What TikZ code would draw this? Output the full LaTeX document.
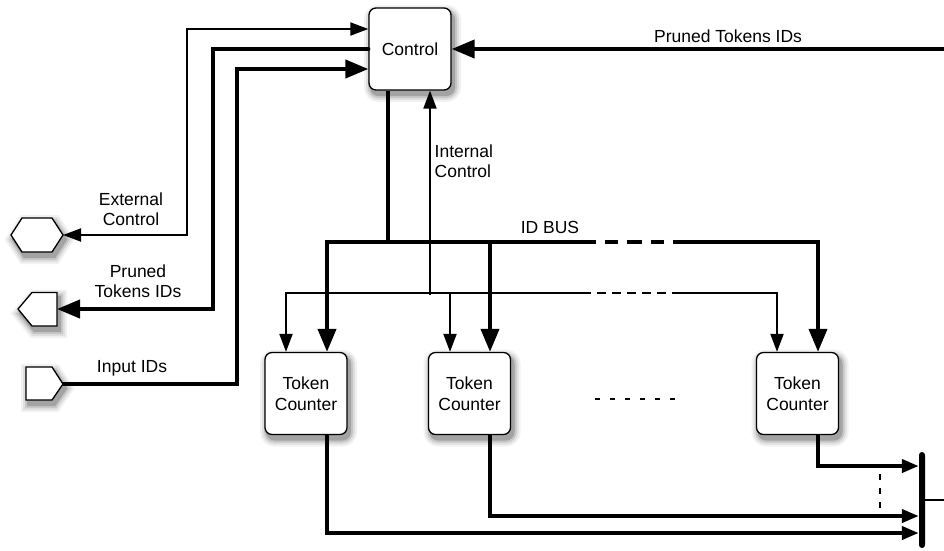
\documentclass[tikz,border=0pt]{standalone}
\usepackage{fontspec}
\setmainfont{Liberation Sans}
\usetikzlibrary{arrows.meta}
\begin{document}
\begin{tikzpicture}[x=1pt,y=-1pt,
  txt/.style={font=\fontsize{17.5}{20.5}\selectfont, inner sep=0pt},
  shad/.style={
    preaction={draw=black!5, fill=black!5, line width=15pt, transform canvas={xshift=2.5pt,yshift=-4.5pt}},
    preaction={draw=black!12, fill=black!12, line width=11pt, transform canvas={xshift=2.5pt,yshift=-4.5pt}},
    preaction={draw=black!22, fill=black!22, line width=7pt, transform canvas={xshift=2.5pt,yshift=-4.5pt}},
    preaction={draw=black!36, fill=black!36, line width=3pt, transform canvas={xshift=2.5pt,yshift=-4.5pt}}},
  box/.style={draw, line width=1.3pt, rounded corners=7pt, fill=white,
    minimum width=82pt, minimum height=82pt, align=center, shad, txt},
  port/.style={draw, line width=1.3pt, fill=white, shad},
  thinw/.style={line width=2pt},
  thickw/.style={line width=4pt},
  thinarr/.style={-{Triangle[length=18pt,width=13pt]}},
  thinbi/.style={{Triangle[length=18pt,width=13pt]}-{Triangle[length=18pt,width=13pt]}},
  thickarr/.style={-{Triangle[length=23pt,width=18pt]}},
  thickbi/.style={{Triangle[length=23pt,width=18pt]}-{Triangle[length=23pt,width=18pt]}},
  smallarr/.style={-{Triangle[length=17pt,width=13pt]}},
  gapw/.style={draw=white, line cap=butt}
]
\useasboundingbox (0,0) rectangle (944,550);

% ports
\draw[port] (11,235) -- (22,218) -- (52,218) -- (63,235) -- (52,252) -- (22,252) -- cycle;
\draw[port] (18,309) -- (32,292.5) -- (57,292.5) -- (57,326) -- (32,326) -- cycle;
\draw[port] (26,367) -- (52,367) -- (63,384) -- (52,400) -- (26,400) -- cycle;
\coordinate (ext) at (63,235);
\coordinate (pout) at (57,309);
\coordinate (pin) at (63,384);
\coordinate (edgeR) at (944,49);
\coordinate (outR) at (944,500);

% boxes
\node[box] (ctrl) at (410,49) {Control};
\node[box] (tc1) at (306,393.5) {Token\\Counter};
\node[box] (tc2) at (469.5,393.5) {Token\\Counter};
\node[box] (tc3) at (797.5,393.5) {Token\\Counter};
\node[fill=black, minimum width=6pt, minimum height=96pt, inner sep=0pt, rounded corners=3pt] (bar) at (922,500) {};

% left connections
\draw[thinw, thinbi] (ext) -- (187,235) -- (187,29) -- (ctrl.west |- 0,29);
\draw[thickw, thickarr, line cap=round] (ctrl.west |- 0,49) -- (213,49) -- (213,309) -- (pout);
\draw[thickw, thickarr] (pin) -- (237,384) -- (237,69) -- (ctrl.west |- 0,69);
\draw[thickw, thickarr] (edgeR) -- (ctrl.east);

% ID bus
\draw[thickw] (ctrl.south -| 388,0) -- (388,242);
\draw[thickw, thickbi] (tc1.north -| 327,0) -- (327,242) -- (818,242) -- (tc3.north -| 818,0);
\draw[thickw, thickarr] (490,242) -- (tc2.north -| 490,0);
\draw[gapw, line width=4.6pt, dash pattern=on 9pt off 13pt on 9pt off 15pt on 9pt off 13pt on 9pt off 200pt] (596,242) -- (673,242);

% internal control bus
\draw[thinw, thinbi] (tc1.north -| 286,0) -- (286,293) -- (777,293) -- (tc3.north -| 777,0);
\draw[thinw, thinarr] (430,295) -- (ctrl.south -| 430,0);
\draw[thinw, thinarr] (450,293) -- (tc2.north -| 450,0);
\draw[gapw, line width=2.6pt, dash pattern=on 6pt off 9pt] (591,293) -- (672,293);

% ellipsis
\draw[line width=2.5pt, dash pattern=on 5pt off 10pt] (595,399) -- (675,399);

% outputs
\draw[thickw, smallarr] (tc1.south -| 327,0) -- (327,533) -- (bar.west |- 0,533);
\draw[thickw, smallarr] (tc2.south -| 490,0) -- (490,516) -- (bar.west |- 0,516);
\draw[thickw, smallarr] (tc3.south -| 818,0) -- (818,466) -- (bar.west |- 0,466);
\draw[line width=2.5pt, dash pattern=on 6pt off 8pt] (880,474) -- (880,508);
\draw[line width=2.5pt] (bar.east) -- (outR);

% labels
\node[txt, align=center] (lext) at (131,209) {External\\Control};
\node[txt, align=center] (lpout) at (138,281) {Pruned\\Tokens IDs};
\node[txt] (lpin) at (132,368) {Input IDs};
\node[txt] (lbus) at (550,227) {ID BUS};
\node[txt] (lptop) at (728,36) {Pruned Tokens IDs};
\node[txt, align=left, anchor=west] (lint) at (434.5,161) {Internal\\Control};
\end{tikzpicture}
\end{document}
